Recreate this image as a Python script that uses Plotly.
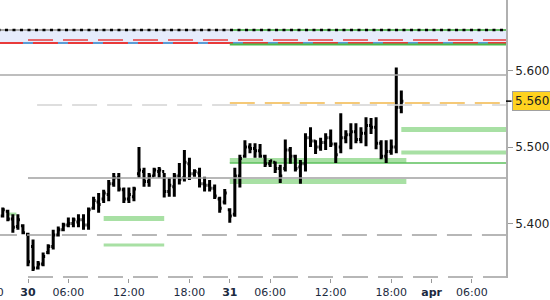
import plotly.graph_objects as go

# ---- data (bar index: 0 = 30 00:00, 40 = 31 00:00, 80 = apr 00:00) ----
bar_idx = list(range(-5, 75))
highs = [5.421, 5.418, 5.412, 5.412, 5.399, 5.388, 5.379, 5.351, 5.362, 5.373,
         5.392, 5.396, 5.401, 5.408, 5.408, 5.412, 5.412, 5.421, 5.435, 5.440,
         5.444, 5.457, 5.466, 5.466, 5.447, 5.447, 5.448, 5.500, 5.473, 5.466,
         5.473, 5.474, 5.466, 5.460, 5.466, 5.479, 5.496, 5.486, 5.471, 5.473,
         5.461, 5.457, 5.451, 5.435, 5.445, 5.420, 5.473, 5.490, 5.509, 5.505,
         5.505, 5.504, 5.490, 5.483, 5.481, 5.477, 5.510, 5.500, 5.490, 5.483,
         5.518, 5.526, 5.509, 5.512, 5.518, 5.523, 5.506, 5.544, 5.522, 5.531,
         5.531, 5.526, 5.539, 5.538, 5.539, 5.509, 5.509, 5.510, 5.604, 5.574]
lows = [5.408, 5.403, 5.388, 5.392, 5.386, 5.344, 5.338, 5.340, 5.344, 5.360,
        5.366, 5.383, 5.390, 5.395, 5.395, 5.395, 5.392, 5.392, 5.418, 5.414,
        5.427, 5.429, 5.448, 5.442, 5.427, 5.427, 5.429, 5.460, 5.448, 5.448,
        5.461, 5.460, 5.434, 5.435, 5.435, 5.451, 5.455, 5.457, 5.461, 5.447,
        5.442, 5.442, 5.432, 5.414, 5.425, 5.401, 5.409, 5.447, 5.486, 5.492,
        5.486, 5.486, 5.474, 5.474, 5.466, 5.453, 5.468, 5.478, 5.468, 5.452,
        5.468, 5.500, 5.491, 5.495, 5.496, 5.500, 5.479, 5.492, 5.505, 5.497,
        5.505, 5.505, 5.501, 5.517, 5.497, 5.484, 5.479, 5.490, 5.492, 5.544]
opens = [5.410, 5.416, 5.406, 5.396, 5.397, 5.386, 5.370, 5.342, 5.347, 5.362,
         5.370, 5.385, 5.392, 5.398, 5.400, 5.402, 5.405, 5.398, 5.420, 5.428,
         5.432, 5.438, 5.452, 5.460, 5.444, 5.432, 5.435, 5.465, 5.468, 5.455,
         5.462, 5.468, 5.468, 5.442, 5.448, 5.462, 5.460, 5.478, 5.465, 5.466,
         5.452, 5.450, 5.446, 5.432, 5.428, 5.418, 5.412, 5.462, 5.488, 5.500,
         5.498, 5.495, 5.488, 5.478, 5.480, 5.472, 5.472, 5.496, 5.488, 5.474,
         5.478, 5.512, 5.508, 5.500, 5.506, 5.512, 5.504, 5.500, 5.512, 5.516,
         5.520, 5.510, 5.518, 5.528, 5.526, 5.505, 5.488, 5.494, 5.500, 5.552]
closes = [5.418, 5.406, 5.395, 5.405, 5.388, 5.350, 5.342, 5.347, 5.357, 5.370,
          5.385, 5.392, 5.398, 5.400, 5.405, 5.405, 5.398, 5.418, 5.430, 5.425,
          5.440, 5.452, 5.460, 5.445, 5.432, 5.438, 5.445, 5.470, 5.455, 5.462,
          5.470, 5.470, 5.442, 5.450, 5.462, 5.458, 5.480, 5.465, 5.468, 5.452,
          5.450, 5.446, 5.436, 5.420, 5.440, 5.410, 5.462, 5.485, 5.500, 5.498,
          5.495, 5.488, 5.478, 5.482, 5.472, 5.462, 5.496, 5.488, 5.472, 5.478,
          5.512, 5.508, 5.500, 5.506, 5.512, 5.504, 5.490, 5.512, 5.516, 5.520,
          5.510, 5.518, 5.528, 5.526, 5.505, 5.488, 5.494, 5.500, 5.552, 5.560]

tick_idx = [0, 8, 20, 32, 40, 48, 60, 72, 80, 88]
tick_text = ["<b>30</b>", "06:00", "12:00", "18:00", "<b>31</b>", "06:00",
             "12:00", "18:00", "<b>apr</b>", "06:00"]
prev_tick_idx = -8
prev_tick_text = "18:00"

y_ticks = [5.400, 5.500, 5.600]
y_tick_text = ["5.400", "5.500", "5.600"]
last_price = 5.560

# levels
band_top, band_bottom = 5.6529, 5.6359
red_dash_level = 5.6399
green_top_level = 5.6340
gray_top_level = 5.5941
orange_level = 5.5575
gray_light_level = 5.5549
green_band_a = 5.5229
green_band_b = 5.4928
green_band_c = 5.4824
green_thin = 5.4791
gray_mid_level = 5.4595
green_band_d = 5.4549
green_band_e = 5.4065
green_band_f = 5.3719
gray_dash_level = 5.3850
gray_bottom_level = 5.3301
green_small = 5.4124

X_MIN, X_MAX = -5.55, 94.75
Y_MIN, Y_MAX = 5.3288, 5.6922

fig = go.Figure()
fig.add_trace(go.Ohlc(
    x=bar_idx, open=opens, high=highs, low=lows, close=closes,
    increasing=dict(line=dict(color="black", width=3)),
    decreasing=dict(line=dict(color="black", width=3)),
    tickwidth=0.4, showlegend=False, hoverinfo="skip"))

shapes = []


def hline(y, x0, x1, color, width=1, dash="solid", layer="above"):
    shapes.append(dict(type="line", xref="x", yref="y", x0=x0, x1=x1, y0=y, y1=y,
                       line=dict(color=color, width=width, dash=dash), layer=layer))


# blue band on top
shapes.append(dict(type="rect", xref="x", yref="y", x0=X_MIN - 1, x1=X_MAX + 1,
                   y0=band_bottom, y1=band_top, fillcolor="#e6ecfc",
                   line=dict(width=0), layer="below"))
hline(band_top, X_MIN - 1, 40, "#aaaaaa", 2)
hline(band_top, 40, X_MAX + 1, "#66bb66", 2)
hline(band_top, X_MIN - 0.5, X_MAX + 1, "black", 2.5, "3px,4.5px")
hline(red_dash_level, 0, X_MAX + 1, "#e83a3a", 1.5, "25px,10px")
hline(band_bottom, X_MIN - 1, X_MAX + 1, "#e83a3a", 2)
hline(band_bottom, -1, X_MAX + 1, "#5b9bd5", 2, "10px,25px")
hline(green_top_level, 40, X_MAX + 1, "#4cbb4c", 2)

# gray levels
hline(gray_top_level, X_MIN - 1, X_MAX + 1, "#a8a8a8", 1.5)
hline(gray_light_level, 1.8, X_MAX + 1, "#d4d4d4", 1.5, "25px,10px")
hline(orange_level, 40, X_MAX + 1, "#f2b84b", 1.5, "25px,10px")
hline(gray_mid_level, 0, X_MAX + 1, "#a0a0a0", 1.5)
hline(gray_dash_level, X_MIN - 1.6, X_MAX + 1, "#a0a0a0", 1.5, "25px,10px")
hline(gray_bottom_level, 0, X_MAX + 1, "#a0a0a0", 1.5, "25px,10px")

# green bands
band_col = "#a8e0a4"
hline(green_band_a, 74, X_MAX + 1, band_col, 5, layer="below")
hline(green_band_b, 74, X_MAX + 1, band_col, 4, layer="below")
hline(green_band_c, 40, 75, band_col, 5, layer="below")
hline(green_band_d, 40, 75, band_col, 5, layer="below")
hline(green_thin, 40, X_MAX + 1, "#5cc05c", 1.5, layer="below")
hline(green_band_e, 15, 27, band_col, 5, layer="below")
hline(green_band_f, 15, 27, band_col, 3, layer="below")
hline(green_small, -4.2, -2.3, band_col, 3, layer="below")

# last price marker tick
shapes.append(dict(type="line", xref="paper", yref="y", x0=1.0, x1=1.011,
                   y0=last_price, y1=last_price, line=dict(color="black", width=1.5)))

prev_tick_paper = (prev_tick_idx - X_MIN) / (X_MAX - X_MIN)

fig.update_layout(
    width=550, height=300,
    margin=dict(l=0, r=44, t=0, b=22),
    paper_bgcolor="white", plot_bgcolor="white",
    shapes=shapes,
    font=dict(family="DejaVu Sans", size=11, color="#222"),
    xaxis=dict(range=[X_MIN, X_MAX], rangeslider=dict(visible=False),
               tickvals=tick_idx, ticktext=tick_text, showgrid=False,
               zeroline=False, showline=False, ticks="outside", ticklen=4,
               tickcolor="#999", tickfont=dict(size=11, color="#1c2a40")),
    yaxis=dict(range=[Y_MIN, Y_MAX], side="right", tickvals=y_ticks,
               ticktext=y_tick_text, showgrid=False, zeroline=False,
               showline=True, linecolor="#b0b0b0", linewidth=1.5,
               ticks="outside", ticklen=5, tickcolor="#999",
               tickfont=dict(size=12, color="#222")),
    annotations=[
        dict(xref="paper", yref="y", x=1.0, y=last_price, xanchor="left",
             yanchor="middle", xshift=6, text="5.560", showarrow=False,
             bgcolor="#ffd21f", bordercolor="#a0a0a0", borderwidth=1,
             borderpad=2, font=dict(size=12, color="#222")),
        dict(xref="paper", yref="paper", x=prev_tick_paper, y=0,
             xanchor="center", yanchor="top", yshift=-6, text=prev_tick_text,
             showarrow=False, font=dict(size=11, color="#1c2a40")),
    ],
)

fig.write_html("out.html")
